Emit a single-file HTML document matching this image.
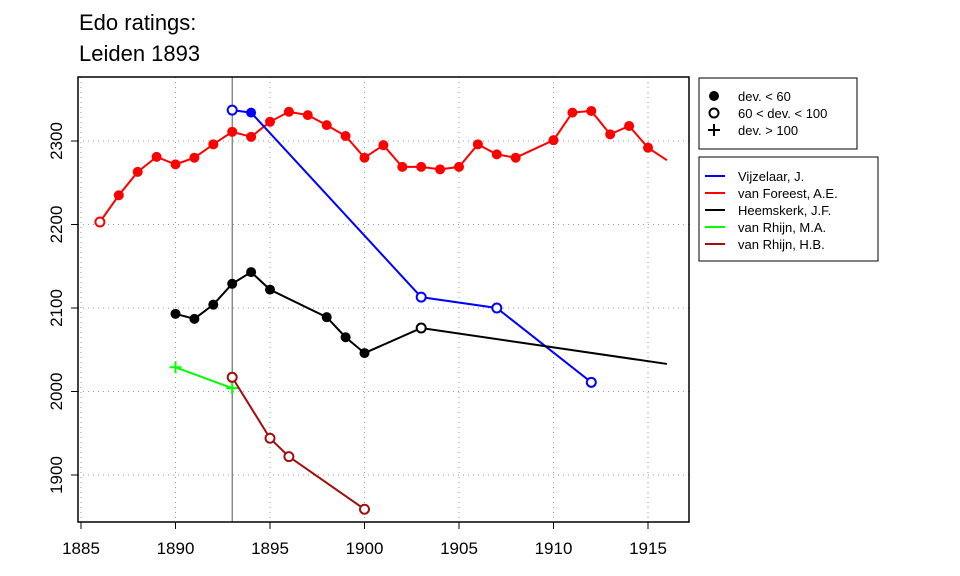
<!DOCTYPE html>
<html><head><meta charset="utf-8"><style>body{margin:0;background:#fff}svg{display:block;font-family:"Liberation Sans",sans-serif}</style></head>
<body>
<svg id="c" width="960" height="576"></svg>
<script>
const years=[1886,1887,1888,1889,1890,1891,1892,1893,1894,1895,1896,1897,1898,1899,1900,1901,1902,1903,1904,1905,1906,1907,1908,1910,1911,1912,1913,1914,1915,1916];
const redVals=[2203,2235,2263,2281,2272,2280,2296,2311,2305,2323,2335,2331,2319,2306,2280,2295,2269,2269,2266,2269,2296,2284,2280,2301,2334,2336,2308,2318,2292,2277];
const redTypes=['o','f','f','f','f','f','f','f','f','f','f','f','f','f','f','f','f','f','f','f','f','f','f','f','f','f','f','f','f','n'];
const blueYears=[1893,1894,1903,1907,1912];
const blueVals=[2337,2334,2113,2100,2011];
const blueTypes=['o','f','o','o','o'];
const blackYears=[1890,1891,1892,1893,1894,1895,1898,1899,1900,1903,1916];
const blackVals=[2093,2087,2104,2129,2143,2122,2089,2065,2046,2076,2033];
const blackTypes=['f','f','f','f','f','f','f','f','f','o','n'];
const greenYears=[1890,1893];
const greenVals=[2029,2004];
const greenTypes=['p','p'];
const darkYears=[1893,1895,1896,1900];
const darkVals=[2017,1944,1922,1859];
const darkTypes=['o','o','o','o'];
const xTicks=[1885,1890,1895,1900,1905,1910,1915];
const yTicks=[1900,2000,2100,2200,2300];
const X=v=>81+(v-1885)*18.9;
const Y=v=>141+(2300-v)*0.835;
const svg=document.getElementById('c');
const NS='http://www.w3.org/2000/svg';
function mk(t,a,p){const e=document.createElementNS(NS,t);for(const k in a)e.setAttribute(k,a[k]);(p||svg).appendChild(e);return e;}
xTicks.forEach(t=>{const l=mk('line',{x1:X(t),x2:X(t),y1:77,y2:522,stroke:'#999','stroke-dasharray':'1,4'});

});
yTicks.forEach(t=>{const l=mk('line',{x1:78,x2:689,y1:Y(t),y2:Y(t),stroke:'#999','stroke-dasharray':'1,4'});

});
const vl=mk('line',{x1:X(1893),x2:X(1893),y1:77,y2:522,stroke:'#555','stroke-width':1});


const box=mk('rect',{x:78,y:77,width:611,height:445,fill:'none',stroke:'#000','stroke-width':1.5});


xTicks.forEach(t=>{mk('line',{x1:X(t),x2:X(t),y1:522,y2:529,stroke:'#000'});
const tx=mk('text',{x:X(t),y:554,'text-anchor':'middle','font-size':17});tx.textContent=t;

});
yTicks.forEach(t=>{mk('line',{x1:71,x2:78,y1:Y(t),y2:Y(t),stroke:'#000'});
const tx=mk('text',{x:0,y:0,'text-anchor':'middle','font-size':17,transform:`translate(62,${Y(t)}) rotate(-90)`});tx.textContent=t;

});
function series(name,ys,vs,ts,col){
 const g=mk('g',{});
 
 
 mk('polyline',{points:ys.map((y,i)=>X(y)+','+Y(vs[i])).join(' '),fill:'none',stroke:col,'stroke-width':2},g);
 ys.forEach((y,i)=>{const x=X(y),yy=Y(vs[i]);let m;
  if(ts[i]=='f')m=mk('circle',{cx:x,cy:yy,r:5,fill:col},g);
  else if(ts[i]=='o')m=mk('circle',{cx:x,cy:yy,r:4.5,fill:'#fff',stroke:col,'stroke-width':2},g);
  else if(ts[i]=='p')m=mk('path',{d:`M${x-6},${yy}h12M${x},${yy-6}v12`,stroke:col,'stroke-width':2},g);
  if(m){
  }});
}
series('series-van-foreest',years,redVals,redTypes,'#f00');
series('series-vijzelaar',blueYears,blueVals,blueTypes,'#00f');
series('series-heemskerk',blackYears,blackVals,blackTypes,'#000');
series('series-van-rhijn-ma',greenYears,greenVals,greenTypes,'#0f0');
series('series-van-rhijn-hb',darkYears,darkVals,darkTypes,'#a01010');
</script>
<svg width="960" height="576" style="position:absolute;left:0;top:0">
<g font-family="Liberation Sans, sans-serif">
<text x="79" y="30" font-size="22">Edo ratings:</text>
<text x="79" y="61" font-size="22">Leiden 1893</text>
<g>
<rect x="699" y="78" width="158" height="71" fill="#fff" stroke="#000"/>
<circle cx="714" cy="96" r="5" fill="#000"/><text x="738" y="101" font-size="13">dev. &lt; 60</text>
<circle cx="714" cy="113" r="4.5" fill="#fff" stroke="#000" stroke-width="2"/><text x="738" y="118" font-size="13">60 &lt; dev. &lt; 100</text>
<path d="M708,130h12M714,124v12" stroke="#000" stroke-width="2"/><text x="738" y="135" font-size="13">dev. &gt; 100</text>
</g>
<g>
<rect x="699" y="157" width="179" height="104" fill="#fff" stroke="#000"/>
<line x1="705" x2="725" y1="176" y2="176" stroke="#00f" stroke-width="2"/><text x="738" y="181" font-size="13">Vijzelaar, J.</text>
<line x1="705" x2="725" y1="193" y2="193" stroke="#f00" stroke-width="2"/><text x="738" y="198" font-size="13">van Foreest, A.E.</text>
<line x1="705" x2="725" y1="210" y2="210" stroke="#000" stroke-width="2"/><text x="738" y="215" font-size="13">Heemskerk, J.F.</text>
<line x1="705" x2="725" y1="227" y2="227" stroke="#0f0" stroke-width="2"/><text x="738" y="232" font-size="13">van Rhijn, M.A.</text>
<line x1="705" x2="725" y1="244" y2="244" stroke="#a01010" stroke-width="2"/><text x="738" y="249" font-size="13">van Rhijn, H.B.</text>
</g>
</g>
</svg>
</body></html>
